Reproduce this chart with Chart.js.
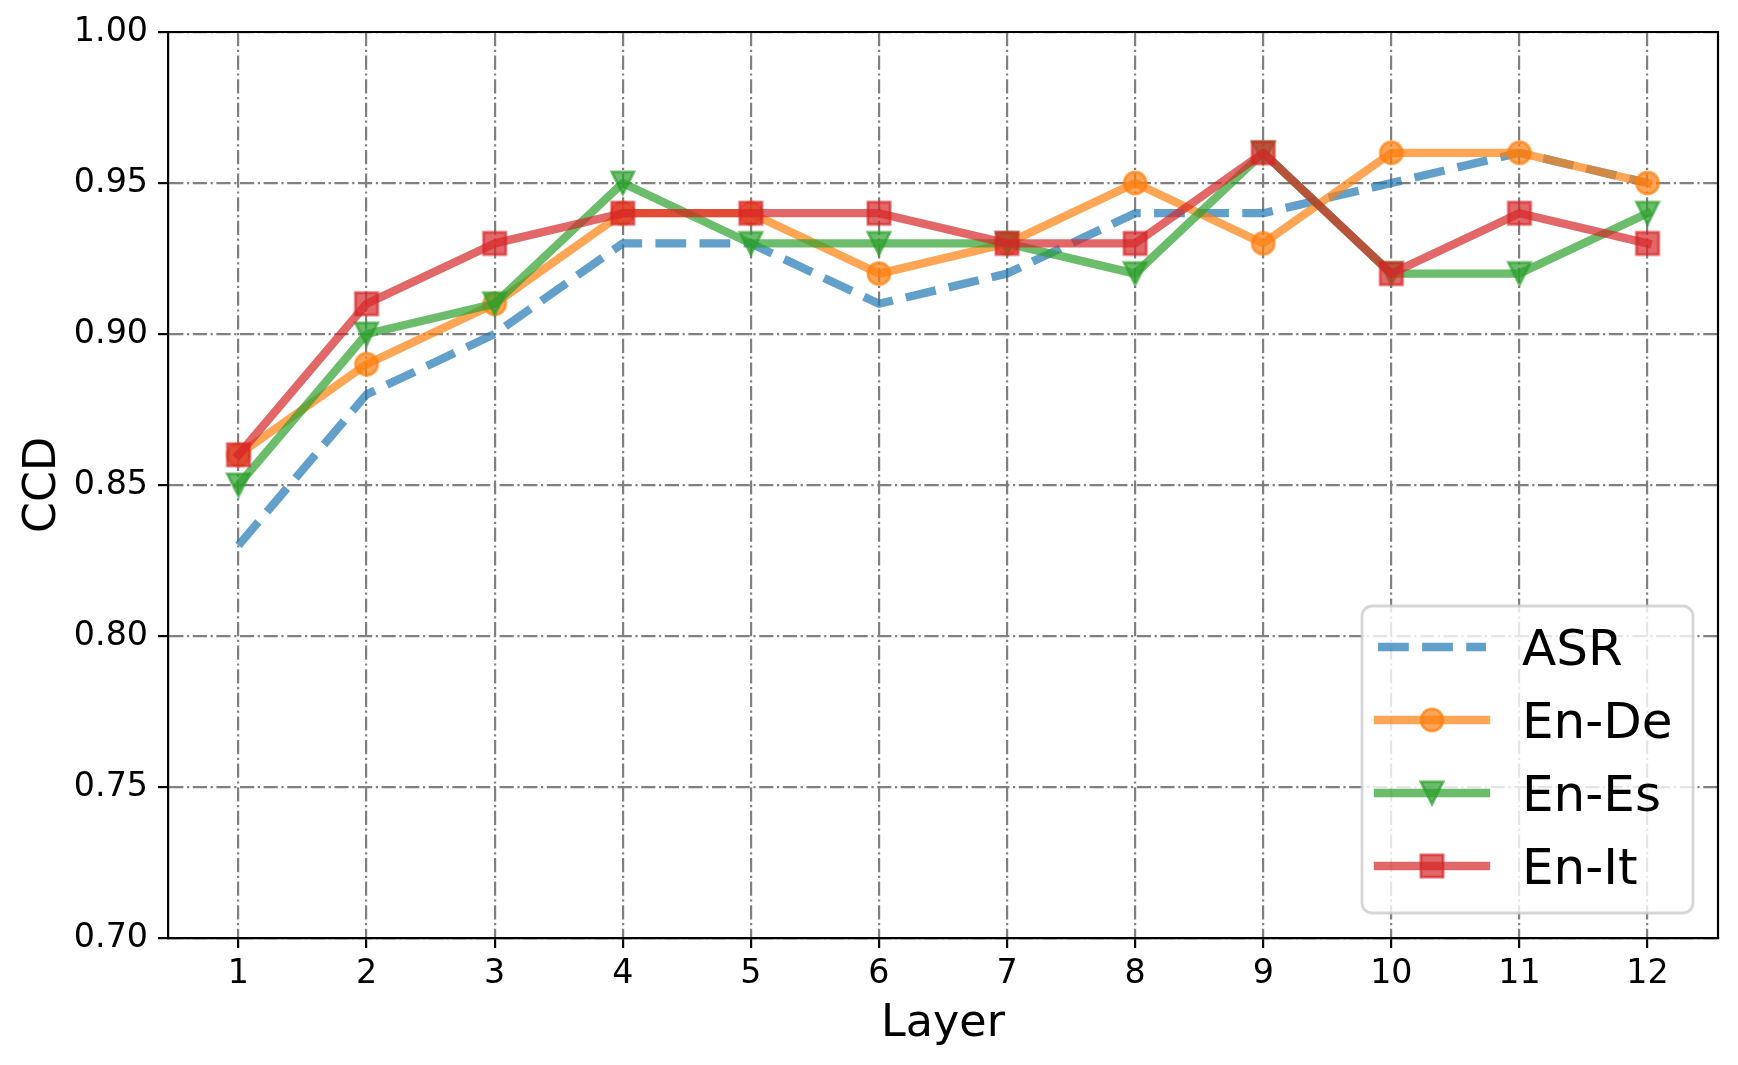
<!DOCTYPE html>
<html>
<head>
<meta charset="utf-8">
<script src="https://cdn.jsdelivr.net/npm/chart.js@4.4.1/dist/chart.umd.min.js"></script>
<style>
  body { margin: 0; background: #fff; }
  canvas { display: block; }
</style>
</head>
<body>
<canvas id="chart" width="1738" height="1065"></canvas>
<script>
// values
const layers = [1, 2, 3, 4, 5, 6, 7, 8, 9, 10, 11, 12];
const yTicks = [0.70, 0.75, 0.80, 0.85, 0.90, 0.95, 1.00];
const asr  = [0.83, 0.88, 0.90, 0.93, 0.93, 0.91, 0.92, 0.94, 0.94, 0.95, 0.96, 0.95];
const enDe = [0.86, 0.89, 0.91, 0.94, 0.94, 0.92, 0.93, 0.95, 0.93, 0.96, 0.96, 0.95];
const enEs = [0.85, 0.90, 0.91, 0.95, 0.93, 0.93, 0.93, 0.92, 0.96, 0.92, 0.92, 0.94];
const enIt = [0.86, 0.91, 0.93, 0.94, 0.94, 0.94, 0.93, 0.93, 0.96, 0.92, 0.94, 0.93];

const FONT = "'DejaVu Sans', sans-serif";
const LW = 8.33;

//matplotlib-like markers as small canvases
function makeMarker(shape, color) {
  var c = document.createElement('canvas');
  c.width = 34; c.height = 34;
  var g = c.getContext('2d');
  var h = 11.1, m = 17;
  g.beginPath();
  if (shape == 'circle') g.arc(m, m, h, 0, Math.PI * 2);
  if (shape == 'square') g.rect(m - h, m - h, 2 * h, 2 * h);
  if (shape == 'tridown') { g.moveTo(m - h, m - h); g.lineTo(m + h, m - h); g.lineTo(m, m + h); g.closePath(); }
  g.fillStyle = color;
  g.fill();
  g.lineWidth = 2.78;
  g.strokeStyle = color;
  g.stroke();
  return c;
}

function points(vals) {
  return layers.map((l, i) => ({x: l, y: vals[i]}));
}

var blue = 'rgba(31,119,180,0.7)', orange = 'rgba(255,127,14,0.7)';
var green = 'rgba(44,160,44,0.7)', red = 'rgba(214,39,40,0.7)';

var datasets = [
  {label: 'ASR', data: points(asr), borderColor: blue, borderDash: [30.8, 13.3], borderCapStyle: 'butt', pointRadius: 0, order: 3},
  {label: 'En-De', data: points(enDe), borderColor: orange, pointStyle: makeMarker('circle', orange), order: 2},
  {label: 'En-Es', data: points(enEs), borderColor: green, pointStyle: makeMarker('tridown', green), order: 1},
  {label: 'En-It', data: points(enIt), borderColor: red, pointStyle: makeMarker('square', red), order: 0}
];
datasets.forEach(d => {
  d.borderWidth = LW;
  d.tension = 0;
  d.fill = false;
  d.borderJoinStyle = 'round';
  if (!d.borderCapStyle) d.borderCapStyle = 'square';
  if (d.pointRadius === undefined) d.pointRadius = 11;
});

//top/right spines and the legend box inside the axes
var framePlugin = {
  id: 'frame',
  afterDraw(chart) {
    var ctx = chart.ctx, a = chart.chartArea;
    ctx.save();
    ctx.strokeStyle = '#000';
    ctx.lineWidth = 2.2;
    ctx.beginPath();
    ctx.moveTo(a.left, a.top);
    ctx.lineTo(a.right, a.top);
    ctx.lineTo(a.right, a.bottom);
    ctx.stroke();

    var bw = 331, bh = 307;
    var bx = a.right - 25 - bw, by = a.bottom - 25 - bh;
    ctx.beginPath();
    ctx.roundRect(bx, by, bw, bh, 10);
    ctx.fillStyle = 'rgba(255,255,255,0.8)';
    ctx.fill();
    ctx.lineWidth = 2.78;
    ctx.strokeStyle = 'rgba(204,204,204,0.8)';
    ctx.stroke();

    ctx.font = '50px ' + FONT;
    ctx.textBaseline = 'alphabetic';
    ctx.textAlign = 'left';
    chart.data.datasets.forEach((d, i) => {
      var ry = by + 41 + i * 73;
      ctx.save();
      ctx.strokeStyle = d.borderColor;
      ctx.lineWidth = LW;
      ctx.lineCap = d.borderCapStyle;
      ctx.setLineDash(d.borderDash || []);
      ctx.beginPath();
      ctx.moveTo(bx + 16, ry);
      ctx.lineTo(bx + 124, ry);
      ctx.stroke();
      ctx.restore();
      if (typeof d.pointStyle == 'object') {
        ctx.drawImage(d.pointStyle, bx + 70 - 17, ry - 17);
      }
      ctx.fillStyle = '#000';
      ctx.fillText(d.label, bx + 160, ry + 18);
    });
    ctx.restore();
  }
};

var gridOpts = {color: '#808080', lineWidth: 2.2, tickLength: 10, tickWidth: 2.2, tickColor: '#000'};
var borderOpts = {color: '#000', width: 2.2, dash: [14.2, 3.6, 2.2, 3.6]};

new Chart(document.getElementById('chart'), {
  type: 'line',
  data: {datasets: datasets},
  options: {
    responsive: false,
    animation: false,
    devicePixelRatio: 1,
    events: [],
    layout: {padding: {top: 32, right: 20, left: 0, bottom: 0}},
    plugins: {legend: {display: false}, tooltip: {enabled: false}},
    scales: {
      x: {
        type: 'linear',
        min: 0.45,
        max: 12.55,
        afterBuildTicks: s => { s.ticks = layers.map(v => ({value: v})); },
        afterFit: s => { s.height = 127; },
        ticks: {color: '#000', font: {family: FONT, size: 33.3}, padding: 6, maxRotation: 0, autoSkip: false},
        grid: gridOpts,
        border: borderOpts,
        title: {display: true, text: 'Layer', color: '#000', font: {family: FONT, size: 44.4}, padding: {top: 0, bottom: 14}}
      },
      y: {
        type: 'linear',
        min: 0.70,
        max: 1.00,
        afterBuildTicks: s => { s.ticks = yTicks.map(v => ({value: v})); },
        afterFit: s => { s.width = 168; },
        ticks: {color: '#000', font: {family: FONT, size: 33.3}, padding: 10, callback: v => v.toFixed(2)},
        grid: gridOpts,
        border: borderOpts,
        title: {display: true, text: 'CCD', color: '#000', font: {family: FONT, size: 44.4}, padding: {top: 17, bottom: 0}}
      }
    }
  },
  plugins: [framePlugin]
});
</script>
</body>
</html>
